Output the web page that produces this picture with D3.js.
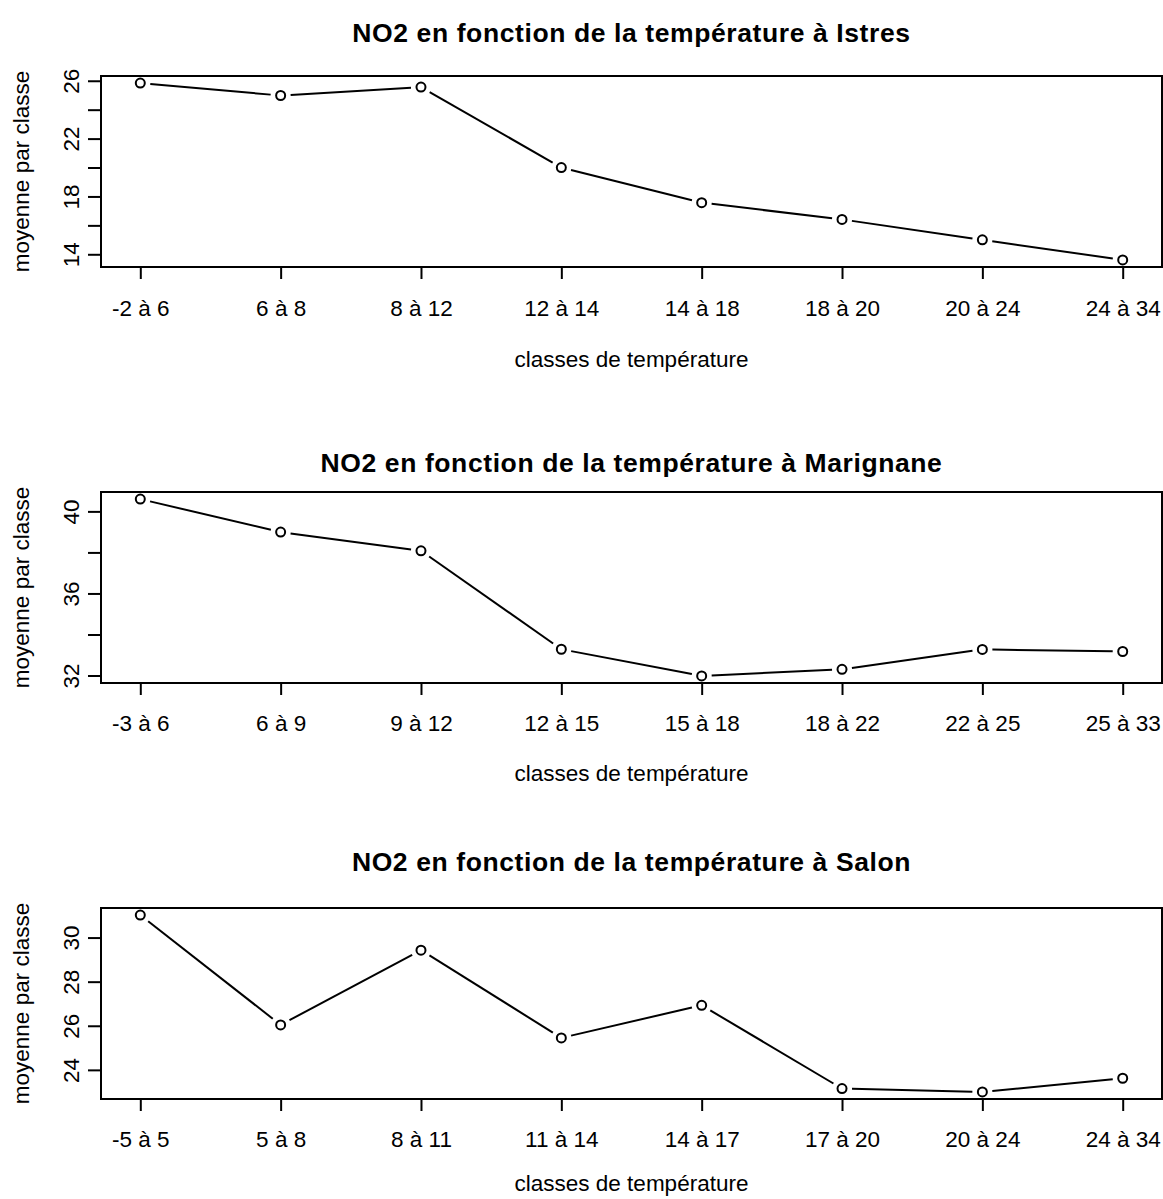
<!DOCTYPE html>
<html>
<head>
<meta charset="utf-8">
<script src="https://cdn.jsdelivr.net/npm/d3@7"></script>
<style>
  html, body { margin: 0; padding: 0; background: #fff; }
  svg { display: block; }
</style>
</head>
<body>
<div id="chart"></div>
<script>
// NO2 moyen par classe de température, trois stations

const titles = [
    'NO2 en fonction de la température à Istres',
    'NO2 en fonction de la température à Marignane',
    'NO2 en fonction de la température à Salon'
];

const istresClasses = ['-2 à 6', '6 à 8', '8 à 12', '12 à 14', '14 à 18', '18 à 20', '20 à 24', '24 à 34'];
const istresValues  = [25.84, 24.98, 25.56, 20.0, 17.57, 16.41, 15.0, 13.61];

const marignaneClasses = ['-3 à 6', '6 à 9', '9 à 12', '12 à 15', '15 à 18', '18 à 22', '22 à 25', '25 à 33'];
const marignaneValues  = [40.6, 38.99, 38.08, 33.28, 31.98, 32.3, 33.27, 33.17];

const salonClasses = ['-5 à 5', '5 à 8', '8 à 11', '11 à 14', '14 à 17', '17 à 20', '20 à 24', '24 à 34'];
const salonValues  = [31.02, 26.04, 29.43, 25.45, 26.93, 23.15, 23.0, 23.62];

// ticks every 2, only some of them carry a label (as in the original)
const istresTicks    = [14, 16, 18, 20, 22, 24, 26];
const istresLabels   = [14, 18, 22, 26];
const marignaneTicks  = [32, 34, 36, 38, 40];
const marignaneLabels = [32, 36, 40];
const salonTicks     = [24, 26, 28, 30];
const salonLabels    = [24, 26, 28, 30];

const xLabel = 'classes de température';
const yLabel = 'moyenne par classe';

const panels = [
    { title: titles[0], classes: istresClasses, values: istresValues, ticks: istresTicks, labels: istresLabels,
      top: 76, bottom: 267, titleY: 42, tickY: 316, xLabY: 367 },
    { title: titles[1], classes: marignaneClasses, values: marignaneValues, ticks: marignaneTicks, labels: marignaneLabels,
      top: 492, bottom: 683, titleY: 472, tickY: 731, xLabY: 781 },
    { title: titles[2], classes: salonClasses, values: salonValues, ticks: salonTicks, labels: salonLabels,
      top: 908, bottom: 1099, titleY: 871, tickY: 1147, xLabY: 1191 }
];

const W = 1163, H = 1199;
const left = 101, right = 1162;
const FONT = '"Liberation Sans", Arial, Helvetica, sans-serif';
const FS = '22.5px';

const svg = d3.select('#chart').append('svg')
    .attr('width', W).attr('height', H)
    .attr('viewBox', `0 0 ${W} ${H}`);

panels.forEach(p => {
    const g = svg.append('g');

    const x = d3.scalePoint().domain(p.classes).range([left, right]).padding(0.28);

    // R-style 4% padding on the y range
    const lo = d3.min(p.values), hi = d3.max(p.values);
    const pad = (hi - lo) * 0.04;
    const y = d3.scaleLinear().domain([lo - pad, hi + pad]).range([p.bottom, p.top]);

    // line segments with a gap around each point (type = "b")
    const gap = 10;
    const pts = p.values.map((v, i) => [x(p.classes[i]), y(v)]);
    const segs = d3.pairs(pts).map(([a, b]) => {
        const dx = b[0] - a[0], dy = b[1] - a[1];
        const len = Math.hypot(dx, dy);
        const ux = dx / len, uy = dy / len;
        return [[a[0] + ux * gap, a[1] + uy * gap], [b[0] - ux * gap, b[1] - uy * gap]];
    });

    g.selectAll('.seg').data(segs).enter().append('line')
        .attr('x1', d => d[0][0]).attr('y1', d => d[0][1])
        .attr('x2', d => d[1][0]).attr('y2', d => d[1][1])
        .attr('stroke', '#000').attr('stroke-width', 2);

    g.selectAll('.pt').data(p.values).enter().append('circle')
        .attr('cx', (d, i) => x(p.classes[i]))
        .attr('cy', d => y(d))
        .attr('r', 4.5)
        .attr('fill', '#fff').attr('stroke', '#000').attr('stroke-width', 2);

    // box
    g.append('rect')
        .attr('x', left).attr('y', p.top)
        .attr('width', right - left).attr('height', p.bottom - p.top)
        .attr('fill', 'none').attr('stroke', '#000').attr('stroke-width', 2);

    // x axis
    const xa = g.append('g').attr('transform', `translate(0,${p.bottom})`)
        .call(d3.axisBottom(x).tickSize(12).tickSizeOuter(0));
    xa.select('.domain').remove();
    xa.selectAll('.tick line').attr('stroke', '#000').attr('stroke-width', 2);
    xa.selectAll('.tick text')
        .attr('y', p.tickY - p.bottom).attr('dy', null)
        .attr('fill', '#000').attr('font-size', FS).attr('font-family', FONT);

    // y axis, labels rotated along the axis
    const ya = g.append('g').attr('transform', `translate(${left},0)`)
        .call(d3.axisLeft(y).tickValues(p.ticks).tickSize(13)
            .tickFormat(d => p.labels.includes(d) ? String(d) : ''));
    ya.select('.domain').remove();
    ya.selectAll('.tick line').attr('stroke', '#000').attr('stroke-width', 2);
    ya.selectAll('.tick text')
        .attr('x', null).attr('dy', null)
        .attr('transform', 'translate(-22,0) rotate(-90)')
        .attr('text-anchor', 'middle')
        .attr('fill', '#000').attr('font-size', FS).attr('font-family', FONT);

    // title
    svg.append('text')
        .attr('x', (left + right) / 2).attr('y', p.titleY)
        .attr('text-anchor', 'middle')
        .attr('font-size', '26.5px').attr('font-weight', 'bold').attr('font-family', FONT)
        .attr('letter-spacing', '0.6px')
        .text(p.title);

    // axis titles
    svg.append('text')
        .attr('x', (left + right) / 2).attr('y', p.xLabY)
        .attr('text-anchor', 'middle')
        .attr('font-size', FS).attr('font-family', FONT)
        .text(xLabel);

    svg.append('text')
        .attr('transform', `translate(29,${(p.top + p.bottom) / 2}) rotate(-90)`)
        .attr('text-anchor', 'middle')
        .attr('font-size', FS).attr('font-family', FONT)
        .text(yLabel);
});
</script>
</body>
</html>
